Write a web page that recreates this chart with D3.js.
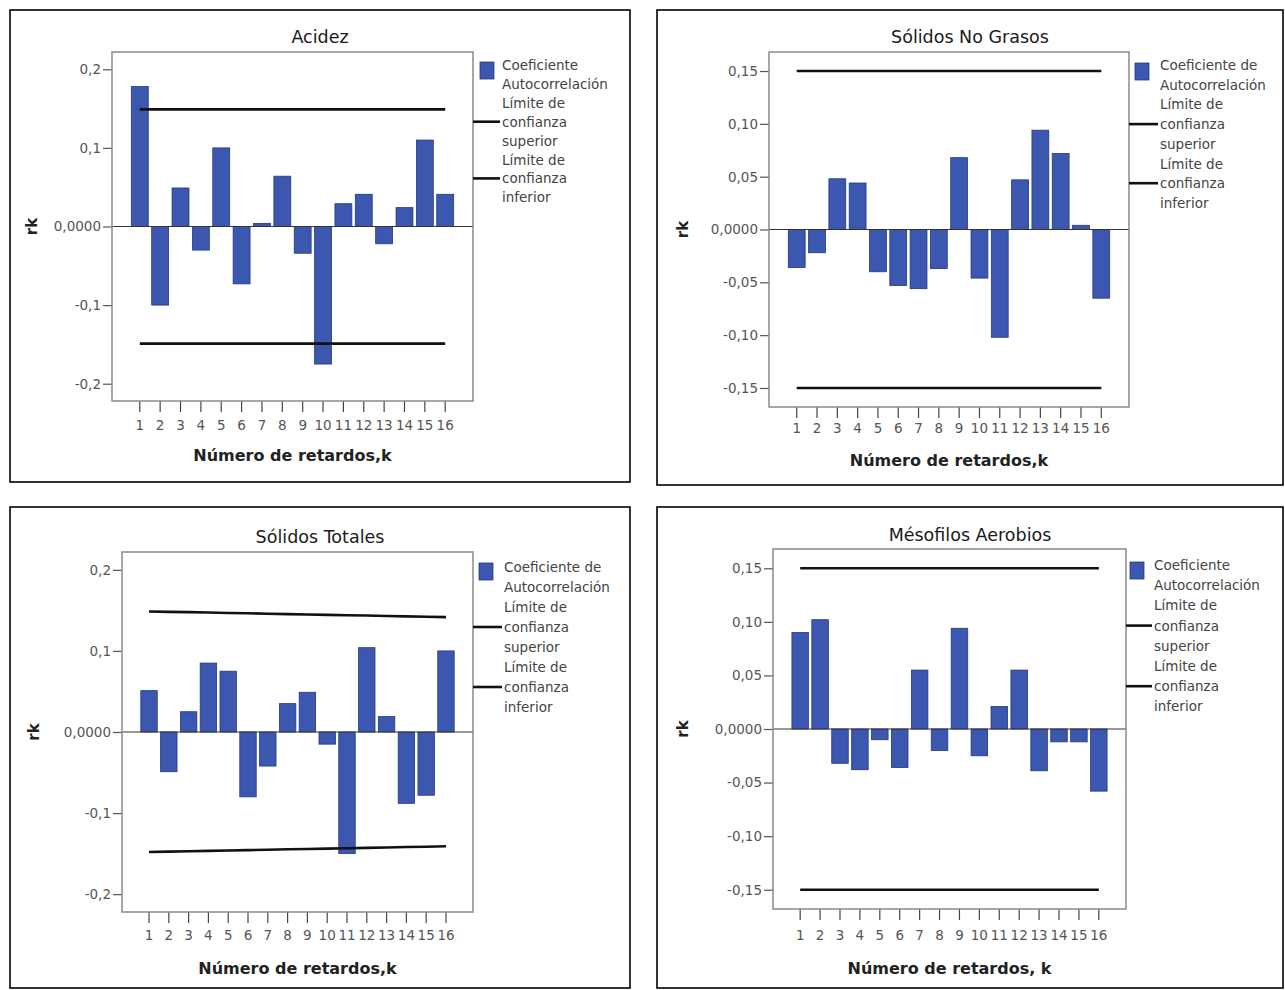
<!DOCTYPE html>
<html>
<head>
<meta charset="utf-8">
<script src="https://cdn.jsdelivr.net/npm/d3@7/dist/d3.min.js"></script>
<style>
  body { margin: 0; background: #fff; }
  svg { display: block; }
  text { font-family: "DejaVu Sans", Verdana, sans-serif; }
</style>
</head>
<body>
<div id="chart"></div>
<script>
// lags (k)
const lags = [1, 2, 3, 4, 5, 6, 7, 8, 9, 10, 11, 12, 13, 14, 15, 16];

// autocorrelation coefficients
const acidez = [0.178, -0.100, 0.049, -0.030, 0.100, -0.073, 0.004, 0.064, -0.034, -0.175, 0.029, 0.041, -0.022, 0.024, 0.110, 0.041];
const solidosNoGrasos = [-0.036, -0.022, 0.048, 0.044, -0.040, -0.053, -0.056, -0.037, 0.068, -0.046, -0.102, 0.047, 0.094, 0.072, 0.004, -0.065];
const solidosTotales = [0.051, -0.049, 0.025, 0.085, 0.075, -0.080, -0.042, 0.035, 0.049, -0.015, -0.150, 0.104, 0.019, -0.088, -0.078, 0.100];
const mesofilos = [0.090, 0.102, -0.032, -0.038, -0.010, -0.036, 0.055, -0.020, 0.094, -0.025, 0.021, 0.055, -0.039, -0.012, -0.012, -0.058];

// confidence limits per lag
const acidezUpper = [0.149, 0.149, 0.149, 0.149, 0.149, 0.149, 0.149, 0.149, 0.149, 0.149, 0.149, 0.149, 0.149, 0.149, 0.149, 0.149];
const acidezLower = [-0.149, -0.149, -0.149, -0.149, -0.149, -0.149, -0.149, -0.149, -0.149, -0.149, -0.149, -0.149, -0.149, -0.149, -0.149, -0.149];
const noGrasosUpper = [0.15, 0.15, 0.15, 0.15, 0.15, 0.15, 0.15, 0.15, 0.15, 0.15, 0.15, 0.15, 0.15, 0.15, 0.15, 0.15];
const noGrasosLower = [-0.15, -0.15, -0.15, -0.15, -0.15, -0.15, -0.15, -0.15, -0.15, -0.15, -0.15, -0.15, -0.15, -0.15, -0.15, -0.15];
const totalesUpper = [0.1487, 0.1482, 0.1478, 0.1473, 0.1468, 0.1464, 0.1459, 0.1454, 0.1450, 0.1445, 0.1440, 0.1436, 0.1431, 0.1426, 0.1422, 0.1417];
const totalesLower = [-0.1480, -0.1475, -0.1471, -0.1466, -0.1461, -0.1457, -0.1452, -0.1447, -0.1443, -0.1438, -0.1433, -0.1429, -0.1424, -0.1419, -0.1415, -0.1410];
const mesofilosUpper = [0.15, 0.15, 0.15, 0.15, 0.15, 0.15, 0.15, 0.15, 0.15, 0.15, 0.15, 0.15, 0.15, 0.15, 0.15, 0.15];
const mesofilosLower = [-0.15, -0.15, -0.15, -0.15, -0.15, -0.15, -0.15, -0.15, -0.15, -0.15, -0.15, -0.15, -0.15, -0.15, -0.15, -0.15];

// y tick values
const ticksWide = [-0.2, -0.1, 0, 0.1, 0.2];
const ticksNarrow = [-0.15, -0.10, -0.05, 0, 0.05, 0.10, 0.15];

// legend texts
const legendCoef1 = ["Coeficiente", "Autocorrelación"];
const legendCoef2 = ["Coeficiente de", "Autocorrelación"];
const legendUpper = ["Límite de", "confianza", "superior"];
const legendLower = ["Límite de", "confianza", "inferior"];

const BAR_FILL = "#3b57b0";
const BAR_STROKE = "#23397e";

const svg = d3.select("#chart")
  .append("svg")
  .attr("width", 1285)
  .attr("height", 990);

const panels = [
  {
    title: "Acidez", values: acidez, upper: acidezUpper, lower: acidezLower,
    ticks: ticksWide, decimals: 1, ymax: 0.222, coef: legendCoef1,
    xTitle: "Número de retardos,k",
    frame: [10, 10, 630, 482], plot: [112, 52, 473, 401],
    titleY: 37, tickLabelY: 425, xTitleY: 455, rkX: 32,
    legend: { sq: [480, 62], textX: 502, firstY: 65, step: 18.9 }
  },
  {
    title: "Sólidos No Grasos", values: solidosNoGrasos, upper: noGrasosUpper, lower: noGrasosLower,
    ticks: ticksNarrow, decimals: 2, ymax: 0.168, coef: legendCoef2,
    xTitle: "Número de retardos,k",
    frame: [657, 10, 1283, 485], plot: [769, 52, 1129, 407],
    titleY: 37, tickLabelY: 428, xTitleY: 460, rkX: 683,
    legend: { sq: [1135, 63], textX: 1160, firstY: 65, step: 19.7 }
  },
  {
    title: "Sólidos Totales", values: solidosTotales, upper: totalesUpper, lower: totalesLower,
    ticks: ticksWide, decimals: 1, ymax: 0.222, coef: legendCoef2,
    xTitle: "Número de retardos,k",
    frame: [10, 507, 630, 988], plot: [122, 552, 473, 912],
    titleY: 537, tickLabelY: 935, xTitleY: 968, rkX: 34,
    legend: { sq: [479, 563], textX: 504, firstY: 567, step: 20 }
  },
  {
    title: "Mésofilos Aerobios", values: mesofilos, upper: mesofilosUpper, lower: mesofilosLower,
    ticks: ticksNarrow, decimals: 2, ymax: 0.168, coef: legendCoef1,
    xTitle: "Número de retardos, k",
    frame: [657, 507, 1283, 988], plot: [773, 549, 1126, 909],
    titleY: 535, tickLabelY: 935, xTitleY: 968, rkX: 683,
    legend: { sq: [1130, 562], textX: 1154, firstY: 565, step: 20.2 }
  }
];

function formatTick(d, decimals) {
  if (d === 0) return "0,0000";
  // plain hyphen and decimal comma, as in the original
  return d3.format("." + decimals + "f")(d).replace("\u2212", "-").replace(".", ",");
}

function drawPanel(p) {
  const [fx0, fy0, fx1, fy1] = p.frame;
  const [px0, py0, px1, py1] = p.plot;

  // outer frame
  svg.append("rect")
    .attr("x", fx0).attr("y", fy0)
    .attr("width", fx1 - fx0).attr("height", fy1 - fy0)
    .attr("fill", "none").attr("stroke", "#000").attr("stroke-width", 1.6);

  const x = d3.scaleBand()
    .domain(lags)
    .range([px0, px1])
    .paddingInner(0.17)
    .paddingOuter(0.95);

  const y = d3.scaleLinear()
    .domain([-p.ymax, p.ymax])
    .range([py1, py0]);

  const g = svg.append("g");

  // title
  g.append("text")
    .attr("x", (fx0 + fx1) / 2).attr("y", p.titleY)
    .attr("text-anchor", "middle").attr("dominant-baseline", "central")
    .attr("font-size", 17.5).attr("fill", "#1a1a1a")
    .text(p.title);

  // y axis
  const yAxis = g.append("g")
    .attr("transform", `translate(${px0},0)`)
    .call(d3.axisLeft(y).tickValues(p.ticks).tickSize(9).tickPadding(2)
      .tickFormat(d => formatTick(d, p.decimals)));
  yAxis.select(".domain").remove();
  yAxis.selectAll("line").attr("stroke", "#555").attr("stroke-width", 1.2);
  yAxis.selectAll("text")
    .attr("font-size", 13.5).attr("fill", "#555")
    .attr("font-family", "DejaVu Sans, Verdana, sans-serif");

  // x axis
  const xAxis = g.append("g")
    .attr("transform", `translate(0,${py1})`)
    .call(d3.axisBottom(x).tickSize(11));
  xAxis.select(".domain").remove();
  xAxis.selectAll("line").attr("stroke", "#444").attr("stroke-width", 1.2);
  xAxis.selectAll("text")
    .attr("y", p.tickLabelY - py1).attr("dy", "0.35em")
    .attr("font-size", 13.5).attr("fill", "#555")
    .attr("font-family", "DejaVu Sans, Verdana, sans-serif");

  // bars
  g.append("g")
    .selectAll("rect")
    .data(p.values)
    .join("rect")
    .attr("x", (d, i) => x(lags[i]))
    .attr("width", x.bandwidth())
    .attr("y", d => y(Math.max(0, d)))
    .attr("height", d => Math.abs(y(d) - y(0)))
    .attr("fill", BAR_FILL)
    .attr("stroke", BAR_STROKE)
    .attr("stroke-width", 0.8);

  // zero line
  g.append("line")
    .attr("x1", px0).attr("x2", px1)
    .attr("y1", y(0)).attr("y2", y(0))
    .attr("stroke", "#333").attr("stroke-width", 1.2);

  // confidence limits
  const limitLine = d3.line()
    .x((d, i) => x(lags[i]) + x.bandwidth() / 2)
    .y(d => y(d));

  [p.upper, p.lower].forEach(arr => {
    g.append("path")
      .datum(arr)
      .attr("fill", "none")
      .attr("stroke", "#111")
      .attr("stroke-width", 2.6)
      .attr("d", limitLine);
  });

  // plot frame
  g.append("rect")
    .attr("x", px0).attr("y", py0)
    .attr("width", px1 - px0).attr("height", py1 - py0)
    .attr("fill", "none").attr("stroke", "#8a8a8a").attr("stroke-width", 1.5);

  // axis titles
  g.append("text")
    .attr("x", (px0 + px1) / 2).attr("y", p.xTitleY)
    .attr("text-anchor", "middle").attr("dominant-baseline", "central")
    .attr("font-size", 16).attr("font-weight", "bold").attr("fill", "#222")
    .text(p.xTitle);

  g.append("text")
    .attr("transform", `translate(${p.rkX},${y(0)}) rotate(-90)`)
    .attr("text-anchor", "middle").attr("dominant-baseline", "central")
    .attr("font-size", 15).attr("font-weight", "bold").attr("fill", "#222")
    .text("rk");

  // legend
  const L = p.legend;
  g.append("rect")
    .attr("x", L.sq[0]).attr("y", L.sq[1])
    .attr("width", 14).attr("height", 17)
    .attr("fill", BAR_FILL).attr("stroke", BAR_STROKE).attr("stroke-width", 0.8);

  const lines = [...p.coef, ...legendUpper, ...legendLower];
  g.append("g")
    .selectAll("text")
    .data(lines)
    .join("text")
    .attr("x", L.textX)
    .attr("y", (d, i) => L.firstY + i * L.step)
    .attr("dominant-baseline", "central")
    .attr("font-size", 13.5).attr("fill", "#444")
    .text(d => d);

  // legend line samples beside the middle row of each limit entry
  [3, 6].forEach(row => {
    const ly = L.firstY + row * L.step;
    g.append("line")
      .attr("x1", px1).attr("x2", L.textX - 2)
      .attr("y1", ly).attr("y2", ly)
      .attr("stroke", "#111").attr("stroke-width", 2.6);
  });
}

panels.forEach(drawPanel);
</script>
</body>
</html>
